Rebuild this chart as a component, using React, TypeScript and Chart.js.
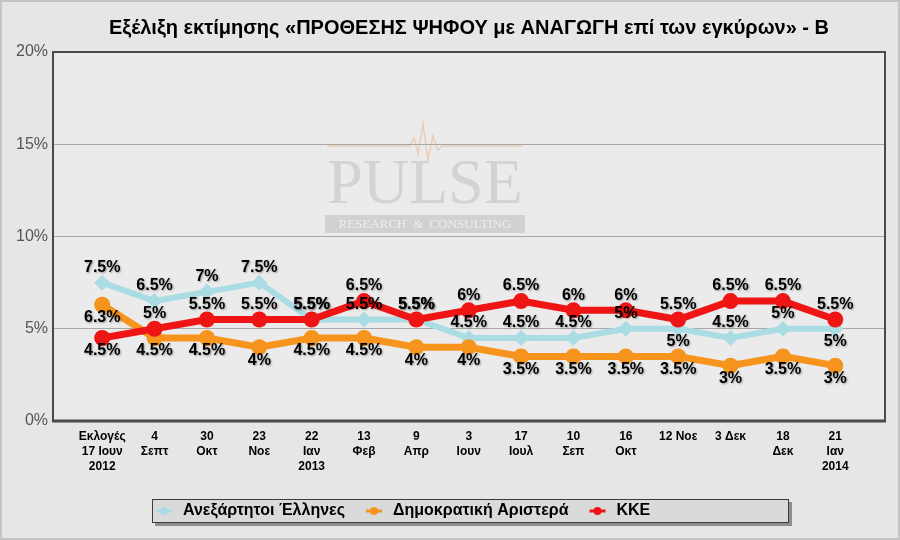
import React, { useEffect, useRef } from 'react';
import { Chart, registerables } from 'chart.js';

Chart.register(...registerables);

const titleText = 'Εξέλιξη εκτίμησης «ΠΡΟΘΕΣΗΣ ΨΗΦΟΥ με ΑΝΑΓΩΓΗ επί των εγκύρων» - Β';

const categories: string[][] = [
  ['Εκλογές', '17 Ιουν', '2012'],
  ['4', 'Σεπτ'],
  ['30', 'Οκτ'],
  ['23', 'Νοε'],
  ['22', 'Ιαν', '2013'],
  ['13', 'Φεβ'],
  ['9', 'Απρ'],
  ['3', 'Ιουν'],
  ['17', 'Ιουλ'],
  ['10', 'Σεπ'],
  ['16', 'Οκτ'],
  ['12 Νοε'],
  ['3 Δεκ'],
  ['18', 'Δεκ'],
  ['21', 'Ιαν', '2014'],
];

const seriesNames = ['Ανεξάρτητοι Έλληνες', 'Δημοκρατική Αριστερά', 'ΚΚΕ'];

const anelValues = [7.5, 6.5, 7, 7.5, 5.5, 5.5, 5.5, 4.5, 4.5, 4.5, 5, 5, 4.5, 5, 5];
const dimarValues = [6.3, 4.5, 4.5, 4, 4.5, 4.5, 4, 4, 3.5, 3.5, 3.5, 3.5, 3, 3.5, 3];
const kkeValues = [4.5, 5, 5.5, 5.5, 5.5, 6.5, 5.5, 6, 6.5, 6, 6, 5.5, 6.5, 6.5, 5.5];

const yTicks = [0, 5, 10, 15, 20];

// label side per point: 1 = above the point, -1 = below
const anelLabelSide = [1, 1, 1, 1, 1, 1, 1, 1, 1, 1, 1, -1, 1, 1, -1];
const dimarLabelSide = [-1, -1, -1, -1, -1, -1, -1, -1, -1, -1, -1, -1, -1, -1, -1];
const kkeLabelSide = [-1, 1, 1, 1, 1, 1, 1, 1, 1, 1, 1, 1, 1, 1, 1];

const FONT = '"Liberation Sans", Arial, sans-serif';
const COLORS = ['#a9dce3', '#f7941d', '#f01515'];

const toPoints = (vals: number[]) => vals.map((y, i) => ({ x: i, y }));

const decorPlugin = {
  id: 'decor',
  beforeDraw(chart: any) {
    const { ctx, width, height, chartArea } = chart;
    ctx.save();
    ctx.fillStyle = '#e6e6e6';
    ctx.fillRect(0, 0, width, height);
    ctx.strokeStyle = '#c4c4c4';
    ctx.lineWidth = 2;
    ctx.strokeRect(1, 1, width - 2, height - 2);
    ctx.fillStyle = '#ebebeb';
    ctx.fillRect(chartArea.left, chartArea.top, chartArea.right - chartArea.left, chartArea.bottom - chartArea.top);

    // watermark
    ctx.strokeStyle = 'rgba(235,170,120,0.45)';
    ctx.lineWidth = 1.5;
    ctx.beginPath();
    ctx.moveTo(327, 146);
    ctx.lineTo(410, 146);
    ctx.lineTo(414, 138);
    ctx.lineTo(418, 154);
    ctx.lineTo(423, 124);
    ctx.lineTo(428, 160);
    ctx.lineTo(433, 136);
    ctx.lineTo(438, 150);
    ctx.lineTo(442, 146);
    ctx.lineTo(523, 146);
    ctx.stroke();
    ctx.fillStyle = '#d3d3d3';
    ctx.font = '64px "Liberation Serif", serif';
    ctx.textAlign = 'center';
    ctx.textBaseline = 'alphabetic';
    ctx.fillText('PULSE', 425, 203);
    ctx.fillStyle = '#d1d1d1';
    ctx.fillRect(325, 215, 200, 18);
    ctx.fillStyle = '#ededed';
    ctx.font = '13px "Liberation Serif", serif';
    ctx.textBaseline = 'middle';
    ctx.fillText('RESEARCH  &  CONSULTING', 425, 225);

    // title
    ctx.fillStyle = '#000';
    ctx.font = `bold 20px ${FONT}`;
    ctx.textAlign = 'center';
    ctx.textBaseline = 'middle';
    ctx.fillText(titleText, 469, 28);
    ctx.restore();
  },
  beforeDatasetsDraw(chart: any) {
    const { ctx, chartArea } = chart;
    ctx.save();
    ctx.strokeStyle = '#4a4a4a';
    ctx.lineWidth = 2;
    ctx.strokeRect(chartArea.left, chartArea.top, chartArea.right - chartArea.left, chartArea.bottom - chartArea.top);
    ctx.beginPath();
    ctx.lineWidth = 3;
    ctx.moveTo(chartArea.left - 1, chartArea.bottom);
    ctx.lineTo(chartArea.right + 1, chartArea.bottom);
    ctx.stroke();
    ctx.restore();
  },
  afterDatasetsDraw(chart: any) {
    const { ctx } = chart;
    const sides = [anelLabelSide, dimarLabelSide, kkeLabelSide];
    ctx.save();
    ctx.font = `bold 16px ${FONT}`;
    ctx.textAlign = 'center';
    ctx.textBaseline = 'middle';
    ctx.shadowColor = 'rgba(0,0,0,0.35)';
    ctx.shadowOffsetX = 1;
    ctx.shadowOffsetY = 1;
    ctx.shadowBlur = 2;
    ctx.fillStyle = '#000';
    chart.data.datasets.forEach((ds: any, di: number) => {
      const meta = chart.getDatasetMeta(di);
      meta.data.forEach((pt: any, i: number) => {
        const v = ds.data[i].y;
        const off = sides[di][i] > 0 ? -15 : 13;
        ctx.fillText(`${v}%`, pt.x, pt.y + off);
      });
    });
    ctx.restore();

    // legend
    ctx.save();
    ctx.fillStyle = '#8e8e8e';
    ctx.fillRect(155, 502, 637, 24);
    ctx.fillStyle = '#dadada';
    ctx.fillRect(152, 499, 637, 24);
    ctx.strokeStyle = '#3c3c3c';
    ctx.lineWidth = 1;
    ctx.strokeRect(152.5, 499.5, 636, 23);
    ctx.font = `bold 16px ${FONT}`;
    ctx.textBaseline = 'middle';
    ctx.textAlign = 'left';
    let x = 164;
    chart.data.datasets.forEach((ds: any, di: number) => {
      const y = 511;
      ctx.strokeStyle = ds.borderColor;
      ctx.lineWidth = 3;
      ctx.beginPath();
      ctx.moveTo(x - 8, y);
      ctx.lineTo(x + 8, y);
      ctx.stroke();
      ctx.fillStyle = ds.borderColor;
      ctx.beginPath();
      ctx.arc(x, y, 4, 0, Math.PI * 2);
      ctx.fill();
      ctx.fillStyle = '#000';
      const tx = x + 19;
      ctx.fillText(seriesNames[di], tx, y);
      x = tx + ctx.measureText(seriesNames[di]).width + 29;
    });
    ctx.restore();
  },
};

export default function App() {
  const ref = useRef<HTMLCanvasElement>(null);
  useEffect(() => {
    document.body.style.margin = '0';
    const canvas = ref.current!;
    const chart = new Chart(canvas, {
      type: 'line',
      data: {
        datasets: [
          {
            label: seriesNames[0],
            data: toPoints(anelValues),
            borderColor: COLORS[0],
            backgroundColor: COLORS[0],
            borderWidth: 6,
            pointStyle: 'rectRot',
            pointRadius: 8,
            pointBorderWidth: 0,
            order: 3,
          },
          {
            label: seriesNames[1],
            data: toPoints(dimarValues),
            borderColor: COLORS[1],
            backgroundColor: COLORS[1],
            borderWidth: 7,
            pointRadius: 8,
            pointBorderWidth: 0,
            order: 2,
          },
          {
            label: seriesNames[2],
            data: toPoints(kkeValues),
            borderColor: COLORS[2],
            backgroundColor: COLORS[2],
            borderWidth: 7,
            pointRadius: 8,
            pointBorderWidth: 0,
            order: 1,
          },
        ],
      },
      options: {
        responsive: false,
        animation: false,
        layout: { padding: { top: 52, right: 15, left: 0, bottom: 0 } },
        plugins: {
          legend: { display: false },
          title: { display: false },
          tooltip: { enabled: false },
        },
        scales: {
          x: {
            type: 'linear',
            min: -0.94,
            max: 14.95,
            grid: { display: false, drawTicks: false },
            border: { display: false },
            afterBuildTicks: (s: any) => {
              s.ticks = categories.map((_, i) => ({ value: i }));
            },
            afterFit: (s: any) => {
              s.height = 119;
            },
            ticks: {
              autoSkip: false,
              maxRotation: 0,
              minRotation: 0,
              padding: 8,
              color: '#000',
              font: { family: FONT, size: 12, weight: 'bold', lineHeight: 1.25 },
              callback: (v: any) => categories[v] ?? '',
            },
          },
          y: {
            min: 0,
            max: 20,
            afterBuildTicks: (s: any) => {
              s.ticks = yTicks.map((v) => ({ value: v }));
            },
            afterFit: (s: any) => {
              s.width = 53;
            },
            grid: { color: '#a8a8a8', lineWidth: 1, drawTicks: false },
            border: { display: false },
            ticks: {
              padding: 5,
              color: '#555',
              font: { family: FONT, size: 16 },
              callback: (v: any) => `${v}%`,
            },
          },
        },
      },
      plugins: [decorPlugin],
    } as any);
    return () => chart.destroy();
  }, []);
  return (
    <div style={{ width: 900, height: 540 }}>
      <canvas ref={ref} width={900} height={540} style={{ display: 'block' }} />
    </div>
  );
}
